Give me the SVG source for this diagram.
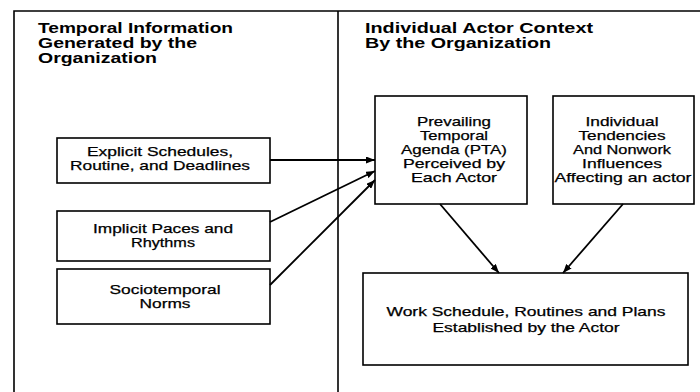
<svg xmlns="http://www.w3.org/2000/svg" width="700" height="392" viewBox="0 0 700 392">
<style>
.frame{fill:none;stroke:#000;stroke-width:1.6}
.box{fill:#fff;stroke:#000;stroke-width:1.6}
.title{font-family:"Liberation Sans",Arial,sans-serif;font-size:14px;font-weight:bold;fill:#000}
.lbl{font-family:"Liberation Sans",Arial,sans-serif;font-size:13px;fill:#000;text-anchor:middle;stroke:#000;stroke-width:0.25}
.conn{fill:none;stroke:#000;stroke-width:1.8}
</style>
<defs>
<marker id="ah" markerUnits="userSpaceOnUse" markerWidth="9" markerHeight="7" refX="9" refY="3.5" orient="auto">
<path d="M0,0 L9,3.5 L0,7 z" fill="#000"/>
</marker>
</defs>
<rect width="700" height="392" fill="#fff"/>
<g id="frame">
<path class="frame" d="M14,392 V11 H700"/>
<path class="frame" d="M338,11 V392"/>
</g>
<g id="title-left">
<text class="title" x="38" y="33" textLength="195" lengthAdjust="spacingAndGlyphs">Temporal Information</text>
<text class="title" x="38" y="48" textLength="159" lengthAdjust="spacingAndGlyphs">Generated by the</text>
<text class="title" x="38" y="63" textLength="119" lengthAdjust="spacingAndGlyphs">Organization</text>
</g>
<g id="title-right">
<text class="title" x="365" y="33" textLength="228" lengthAdjust="spacingAndGlyphs">Individual Actor Context</text>
<text class="title" x="365" y="48" textLength="186" lengthAdjust="spacingAndGlyphs">By the Organization</text>
</g>
<g id="explicit">
<rect class="box" x="57" y="138" width="213" height="45"/>
<text class="lbl" x="160" y="156" textLength="146" lengthAdjust="spacingAndGlyphs">Explicit Schedules,</text>
<text class="lbl" x="160" y="170" textLength="180" lengthAdjust="spacingAndGlyphs">Routine, and Deadlines</text>
</g>
<g id="implicit">
<rect class="box" x="57" y="211" width="213" height="50"/>
<text class="lbl" x="163" y="233" textLength="140" lengthAdjust="spacingAndGlyphs">Implicit Paces and</text>
<text class="lbl" x="163" y="247" textLength="64" lengthAdjust="spacingAndGlyphs">Rhythms</text>
</g>
<g id="sociotemporal">
<rect class="box" x="57" y="269" width="213" height="55"/>
<text class="lbl" x="165" y="294" textLength="111" lengthAdjust="spacingAndGlyphs">Sociotemporal</text>
<text class="lbl" x="165" y="308" textLength="51" lengthAdjust="spacingAndGlyphs">Norms</text>
</g>
<g id="pta">
<rect class="box" x="375" y="96" width="152" height="108"/>
<text class="lbl" x="454" y="126" textLength="74" lengthAdjust="spacingAndGlyphs">Prevailing</text>
<text class="lbl" x="454" y="140" textLength="68" lengthAdjust="spacingAndGlyphs">Temporal</text>
<text class="lbl" x="454" y="154" textLength="106" lengthAdjust="spacingAndGlyphs">Agenda (PTA)</text>
<text class="lbl" x="454" y="168" textLength="102" lengthAdjust="spacingAndGlyphs">Perceived by</text>
<text class="lbl" x="454" y="182" textLength="86" lengthAdjust="spacingAndGlyphs">Each Actor</text>
</g>
<g id="individual">
<rect class="box" x="553" y="96" width="141" height="108"/>
<text class="lbl" x="622" y="126" textLength="73" lengthAdjust="spacingAndGlyphs">Individual</text>
<text class="lbl" x="622" y="140" textLength="87" lengthAdjust="spacingAndGlyphs">Tendencies</text>
<text class="lbl" x="622" y="154" textLength="98" lengthAdjust="spacingAndGlyphs">And Nonwork</text>
<text class="lbl" x="622" y="168" textLength="80" lengthAdjust="spacingAndGlyphs">Influences</text>
<text class="lbl" x="623" y="182" textLength="137" lengthAdjust="spacingAndGlyphs">Affecting an actor</text>
</g>
<g id="work">
<rect class="box" x="363" y="273" width="325" height="92"/>
<text class="lbl" x="526" y="316" textLength="279" lengthAdjust="spacingAndGlyphs">Work Schedule, Routines and Plans</text>
<text class="lbl" x="526" y="332" textLength="187" lengthAdjust="spacingAndGlyphs">Established by the Actor</text>
</g>
<g id="connectors">
<line class="conn" x1="270" y1="160" x2="375" y2="160" marker-end="url(#ah)"/>
<line class="conn" x1="270" y1="222" x2="375" y2="171" marker-end="url(#ah)"/>
<line class="conn" x1="270" y1="285" x2="375" y2="180" marker-end="url(#ah)"/>
<line class="conn" x1="440" y1="204" x2="499" y2="273" marker-end="url(#ah)"/>
<line class="conn" x1="623" y1="204" x2="563" y2="273" marker-end="url(#ah)"/>
</g>
</svg>
